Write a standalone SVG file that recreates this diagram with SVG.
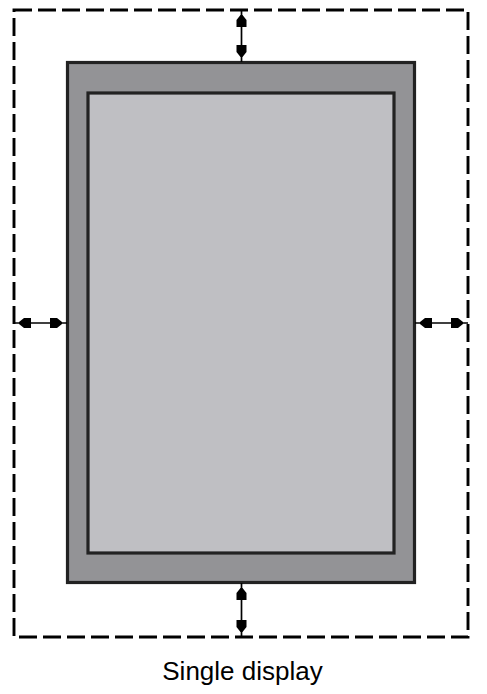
<svg xmlns="http://www.w3.org/2000/svg" width="487" height="694" viewBox="0 0 487 694">
<style>
.frame{fill:none;stroke:#000;stroke-width:2.9;stroke-dasharray:18 6}
.outer{fill:#939396;stroke:#222;stroke-width:3.2}
.inner{fill:#bfbfc3;stroke:#222;stroke-width:3.2}
.dim{fill:none;stroke:#000;stroke-width:1.7;marker-start:url(#head);marker-end:url(#head)}
.label{font-family:"Liberation Sans",Arial,sans-serif;font-size:26px;fill:#000;text-anchor:middle}
</style>
<defs>
<marker id="head" markerUnits="userSpaceOnUse" viewBox="-14 -7 21 14" markerWidth="21" markerHeight="14" refX="5" refY="0" orient="auto-start-reverse">
<polygon points="0,-1 -5,-5 -12,-5 -12,5 -5,5 0,1" fill="#000"/>
</marker>
</defs>
<g id="boundary">
<rect class="frame" x="14" y="10" width="454" height="627"/>
</g>
<g id="display">
<rect class="outer" x="67.5" y="62.5" width="347" height="520"/>
<rect class="inner" x="88" y="93" width="306" height="460"/>
</g>
<g id="connectors">
<path class="dim" d="M241.5 10 V62"/>
<path class="dim" d="M241.5 583 V637"/>
<path class="dim" d="M14 323 H67"/>
<path class="dim" d="M415 323 H468"/>
</g>
<g id="caption">
<text class="label" x="242.5" y="680">Single display</text>
</g>
</svg>
